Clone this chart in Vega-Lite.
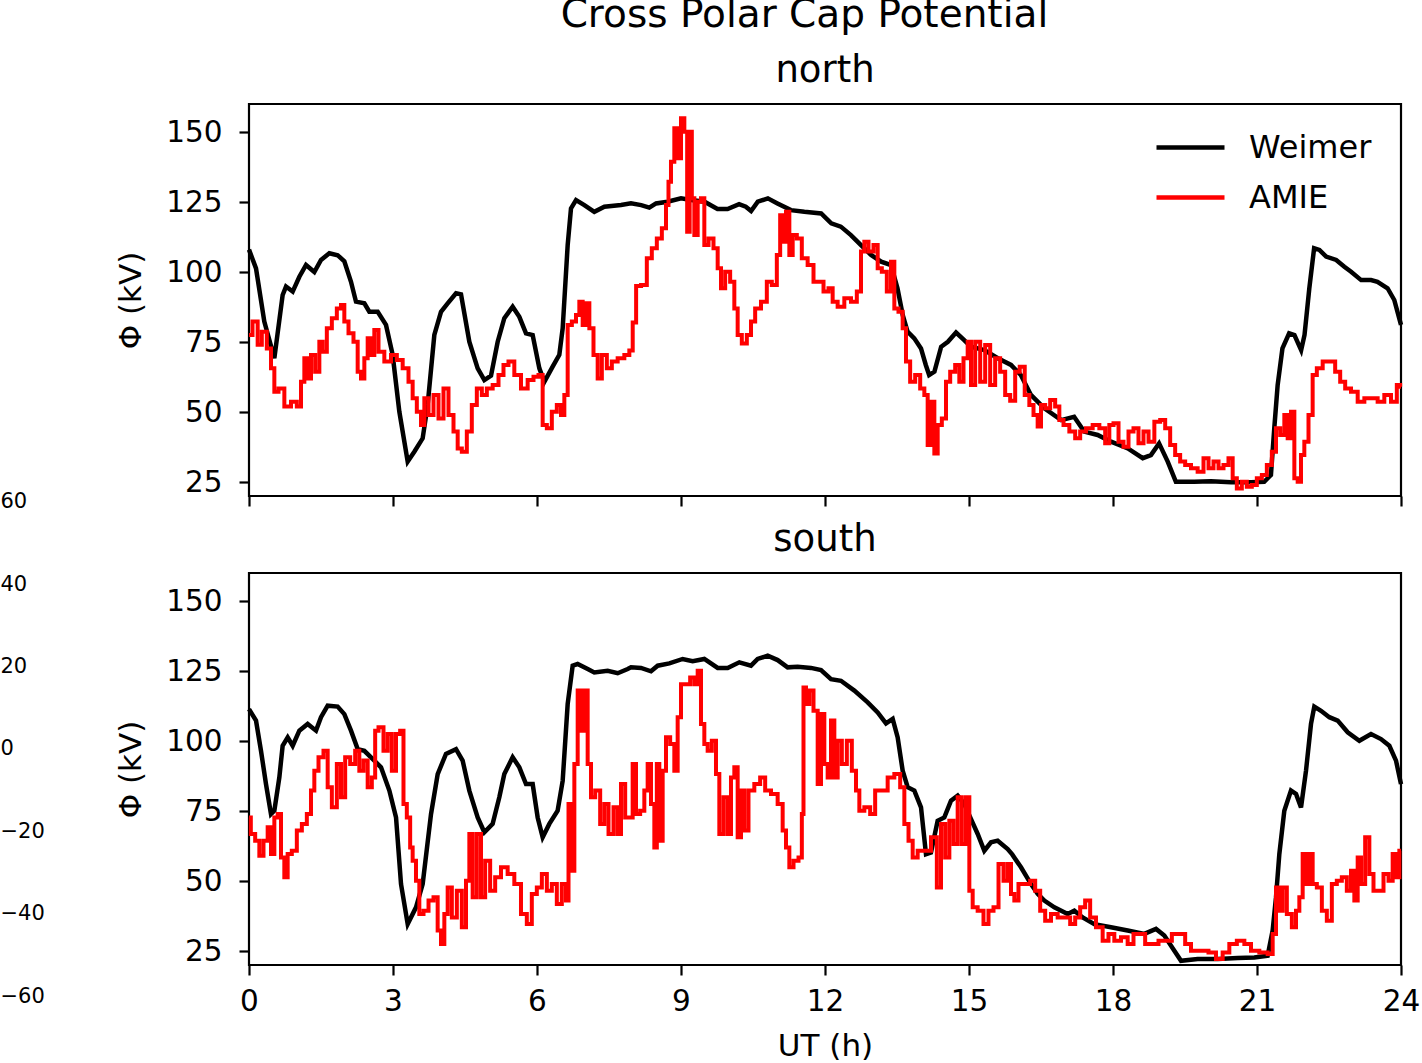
{
"$schema": "https://vega.github.io/schema/vega-lite/v6.json",
"background": "white",
"padding": {"left": 0, "top": -5, "right": 0, "bottom": 0},
"config": {
  "font": "DejaVu Sans",
  "view": {"stroke": "black", "strokeWidth": 2.2},
  "axis": {"grid": false, "domain": false, "labelFlush": false, "labelOverlap": false, "tickColor": "black", "tickWidth": 2.2, "tickSize": 10, "labelFont": "DejaVu Sans", "labelFontSize": 29.5, "labelColor": "black", "titleFont": "DejaVu Sans", "titleFontSize": 31, "titleFontWeight": "normal", "titleColor": "black"},
  "title": {"font": "DejaVu Sans", "fontWeight": "normal", "color": "black"}
},
"title": {"text": "Cross Polar Cap Potential", "fontSize": 39, "anchor": "middle", "baseline": "alphabetic", "offset": -15, "dx": 94},
"bounds": "flush",
"spacing": 247,
"datasets": {
"nw": [{"h":0,"v":108},{"h":0.146,"v":101.3},{"h":0.319,"v":82.3},{"h":0.528,"v":69.2},{"h":0.701,"v":91.8},{"h":0.771,"v":94.8},{"h":0.91,"v":93},{"h":1.049,"v":98.3},{"h":1.188,"v":102.5},{"h":1.361,"v":100},{"h":1.5,"v":104.3},{"h":1.674,"v":106.7},{"h":1.847,"v":106},{"h":1.986,"v":103.8},{"h":2.125,"v":96.5},{"h":2.229,"v":89.4},{"h":2.403,"v":88.8},{"h":2.507,"v":85.8},{"h":2.681,"v":85.8},{"h":2.854,"v":81.1},{"h":2.993,"v":70.4},{"h":3.132,"v":50.1},{"h":3.306,"v":32.3},{"h":3.444,"v":35.8},{"h":3.618,"v":40.6},{"h":3.722,"v":52.5},{"h":3.861,"v":77.5},{"h":4.0,"v":85.8},{"h":4.139,"v":88.8},{"h":4.313,"v":92.4},{"h":4.417,"v":92},{"h":4.59,"v":75.1},{"h":4.764,"v":65.6},{"h":4.903,"v":61.4},{"h":5.042,"v":63},{"h":5.181,"v":75.1},{"h":5.319,"v":83.5},{"h":5.493,"v":87.6},{"h":5.632,"v":84},{"h":5.771,"v":78.1},{"h":5.91,"v":77.5},{"h":6.049,"v":65.6},{"h":6.153,"v":60.8},{"h":6.326,"v":66.2},{"h":6.465,"v":70.4},{"h":6.535,"v":79.9},{"h":6.639,"v":109.6},{"h":6.708,"v":122.7},{"h":6.813,"v":125.7},{"h":6.986,"v":123.9},{"h":7.194,"v":121.5},{"h":7.403,"v":123.3},{"h":7.75,"v":123.9},{"h":7.958,"v":124.5},{"h":8.17,"v":123.9},{"h":8.34,"v":123},{"h":8.48,"v":124.5},{"h":8.72,"v":125.1},{"h":9.0,"v":126.3},{"h":9.21,"v":125.7},{"h":9.49,"v":125.1},{"h":9.76,"v":122.5},{"h":9.97,"v":122.5},{"h":10.21,"v":124.2},{"h":10.35,"v":123.3},{"h":10.46,"v":121.8},{"h":10.6,"v":125.1},{"h":10.81,"v":126.3},{"h":11.01,"v":124.5},{"h":11.29,"v":122.1},{"h":11.57,"v":121.5},{"h":11.92,"v":120.9},{"h":12.13,"v":117.4},{"h":12.33,"v":116.2},{"h":12.54,"v":113.2},{"h":12.75,"v":109.6},{"h":12.96,"v":106.1},{"h":13.17,"v":103.7},{"h":13.375,"v":102.5},{"h":13.51,"v":94.2},{"h":13.62,"v":84.6},{"h":13.72,"v":78.7},{"h":13.86,"v":76.3},{"h":14.0,"v":72.7},{"h":14.1,"v":66.8},{"h":14.17,"v":63.2},{"h":14.28,"v":64.4},{"h":14.42,"v":73.3},{"h":14.56,"v":75.1},{"h":14.73,"v":78.4},{"h":14.9,"v":75.7},{"h":15.04,"v":73.3},{"h":15.32,"v":72.1},{"h":15.6,"v":69.2},{"h":15.875,"v":66.8},{"h":16.08,"v":63.2},{"h":16.29,"v":56.1},{"h":16.57,"v":51.3},{"h":16.92,"v":47.1},{"h":17.19,"v":48.3},{"h":17.4,"v":43},{"h":17.68,"v":41.8},{"h":17.96,"v":39.4},{"h":18.31,"v":37},{"h":18.62,"v":33.5},{"h":18.79,"v":34.6},{"h":18.96,"v":38.8},{"h":19.14,"v":32.3},{"h":19.31,"v":25.1},{"h":19.69,"v":25.1},{"h":20.04,"v":25.3},{"h":20.46,"v":24.9},{"h":20.875,"v":24.9},{"h":21.15,"v":25.1},{"h":21.29,"v":27.5},{"h":21.36,"v":44.2},{"h":21.43,"v":59.6},{"h":21.53,"v":72.7},{"h":21.67,"v":78.1},{"h":21.78,"v":77.5},{"h":21.92,"v":72.1},{"h":21.99,"v":77.5},{"h":22.09,"v":94.2},{"h":22.19,"v":108.5},{"h":22.3,"v":107.9},{"h":22.44,"v":105.5},{"h":22.65,"v":104.3},{"h":22.82,"v":101.9},{"h":22.96,"v":100.1},{"h":23.17,"v":97.1},{"h":23.375,"v":97.1},{"h":23.51,"v":96.5},{"h":23.72,"v":94.2},{"h":23.86,"v":90},{"h":24,"v":81.1}],
"na": [{"h":0,"v":77.5},{"h":0.146,"v":82.3},{"h":0.215,"v":74},{"h":0.319,"v":78.7},{"h":0.424,"v":72.7},{"h":0.493,"v":65.6},{"h":0.563,"v":57.2},{"h":0.667,"v":58.4},{"h":0.806,"v":52},{"h":0.944,"v":53.7},{"h":1.049,"v":52},{"h":1.118,"v":60.8},{"h":1.188,"v":69.2},{"h":1.257,"v":62},{"h":1.326,"v":70.4},{"h":1.431,"v":64.4},{"h":1.5,"v":75.1},{"h":1.569,"v":71.5},{"h":1.674,"v":79.9},{"h":1.778,"v":83.5},{"h":1.882,"v":87},{"h":1.951,"v":88.2},{"h":2.021,"v":82.3},{"h":2.125,"v":78.1},{"h":2.229,"v":75.1},{"h":2.299,"v":64.4},{"h":2.368,"v":62},{"h":2.438,"v":69.2},{"h":2.507,"v":76.3},{"h":2.576,"v":70.4},{"h":2.646,"v":79.3},{"h":2.75,"v":71.5},{"h":2.889,"v":68},{"h":3.028,"v":70.4},{"h":3.132,"v":68.6},{"h":3.271,"v":65.6},{"h":3.375,"v":60.8},{"h":3.444,"v":54.9},{"h":3.549,"v":50.1},{"h":3.618,"v":45.4},{"h":3.688,"v":54.9},{"h":3.792,"v":48.9},{"h":3.896,"v":56.1},{"h":4.0,"v":47.7},{"h":4.104,"v":58.4},{"h":4.208,"v":48.9},{"h":4.313,"v":43},{"h":4.382,"v":37},{"h":4.486,"v":35.8},{"h":4.59,"v":43},{"h":4.694,"v":52.5},{"h":4.799,"v":58.4},{"h":4.903,"v":56.1},{"h":5.007,"v":58.4},{"h":5.146,"v":59.6},{"h":5.25,"v":63.2},{"h":5.354,"v":66.8},{"h":5.458,"v":68},{"h":5.597,"v":63.2},{"h":5.736,"v":58.4},{"h":5.875,"v":61.4},{"h":5.979,"v":62.6},{"h":6.083,"v":63.2},{"h":6.153,"v":45.4},{"h":6.257,"v":44.2},{"h":6.361,"v":50.1},{"h":6.465,"v":52.5},{"h":6.535,"v":48.9},{"h":6.604,"v":56.1},{"h":6.674,"v":81.1},{"h":6.778,"v":82.3},{"h":6.847,"v":84.6},{"h":6.917,"v":89.4},{"h":6.986,"v":81.1},{"h":7.056,"v":88.8},{"h":7.125,"v":79.9},{"h":7.229,"v":70.4},{"h":7.299,"v":62},{"h":7.403,"v":70.4},{"h":7.507,"v":65.6},{"h":7.611,"v":68},{"h":7.75,"v":69.2},{"h":7.889,"v":70.4},{"h":7.958,"v":72},{"h":8.03,"v":82},{"h":8.1,"v":95},{"h":8.236,"v":95.4},{"h":8.34,"v":104.9},{"h":8.444,"v":108.5},{"h":8.549,"v":112},{"h":8.653,"v":115.6},{"h":8.722,"v":123.9},{"h":8.757,"v":132.2},{"h":8.826,"v":139.4},{"h":8.896,"v":151.3},{"h":8.965,"v":140.6},{"h":9.035,"v":154.9},{"h":9.104,"v":150.1},{"h":9.153,"v":114.4},{"h":9.208,"v":150.1},{"h":9.243,"v":126.3},{"h":9.313,"v":113.2},{"h":9.382,"v":125.1},{"h":9.451,"v":126.3},{"h":9.521,"v":109.6},{"h":9.625,"v":112},{"h":9.729,"v":108.5},{"h":9.799,"v":101.3},{"h":9.868,"v":94.2},{"h":9.972,"v":100.1},{"h":10.076,"v":96.5},{"h":10.146,"v":87},{"h":10.215,"v":77.5},{"h":10.319,"v":74.5},{"h":10.424,"v":77.5},{"h":10.493,"v":82.3},{"h":10.597,"v":87},{"h":10.736,"v":89.4},{"h":10.84,"v":96.5},{"h":10.944,"v":95.4},{"h":11.049,"v":106.1},{"h":11.083,"v":120.3},{"h":11.153,"v":110.8},{"h":11.222,"v":121.5},{"h":11.292,"v":106.1},{"h":11.361,"v":113.2},{"h":11.465,"v":112},{"h":11.569,"v":104.9},{"h":11.708,"v":102.5},{"h":11.813,"v":96.5},{"h":11.917,"v":96.5},{"h":12.021,"v":93},{"h":12.125,"v":94.2},{"h":12.194,"v":89.4},{"h":12.333,"v":87.6},{"h":12.472,"v":90.6},{"h":12.611,"v":89.4},{"h":12.715,"v":93},{"h":12.785,"v":107.3},{"h":12.854,"v":110.8},{"h":12.958,"v":107.3},{"h":13.063,"v":109.6},{"h":13.132,"v":101.3},{"h":13.236,"v":100.1},{"h":13.34,"v":93},{"h":13.41,"v":103.7},{"h":13.479,"v":87},{"h":13.583,"v":85.8},{"h":13.653,"v":79.9},{"h":13.722,"v":68},{"h":13.826,"v":60.8},{"h":13.931,"v":63.2},{"h":14.035,"v":58.4},{"h":14.104,"v":56.1},{"h":14.174,"v":38.2},{"h":14.243,"v":53.7},{"h":14.313,"v":35.2},{"h":14.382,"v":45.4},{"h":14.486,"v":47.7},{"h":14.556,"v":60.8},{"h":14.66,"v":64.4},{"h":14.764,"v":66.8},{"h":14.833,"v":60.8},{"h":14.938,"v":69.2},{"h":15.007,"v":75.1},{"h":15.076,"v":59.6},{"h":15.181,"v":75.1},{"h":15.285,"v":60.8},{"h":15.389,"v":73.9},{"h":15.493,"v":59.6},{"h":15.597,"v":69.2},{"h":15.701,"v":64.4},{"h":15.806,"v":56.1},{"h":15.91,"v":54},{"h":16.014,"v":64.4},{"h":16.1,"v":66.2},{"h":16.222,"v":56.1},{"h":16.292,"v":52.5},{"h":16.396,"v":48.9},{"h":16.465,"v":44.8},{"h":16.535,"v":52.5},{"h":16.639,"v":51.3},{"h":16.743,"v":54.3},{"h":16.847,"v":52},{"h":16.917,"v":47.1},{"h":17.021,"v":45.4},{"h":17.16,"v":43},{"h":17.264,"v":40.6},{"h":17.368,"v":43},{"h":17.507,"v":44.2},{"h":17.646,"v":45.4},{"h":17.785,"v":44.2},{"h":17.889,"v":38.8},{"h":17.958,"v":45.4},{"h":18.063,"v":46},{"h":18.167,"v":39.4},{"h":18.271,"v":37.6},{"h":18.375,"v":43},{"h":18.479,"v":44.2},{"h":18.583,"v":38.8},{"h":18.688,"v":43},{"h":18.792,"v":39.4},{"h":18.931,"v":46.5},{"h":19.035,"v":47.1},{"h":19.139,"v":44.2},{"h":19.243,"v":38.2},{"h":19.347,"v":34.6},{"h":19.451,"v":32.3},{"h":19.556,"v":31.1},{"h":19.694,"v":29.9},{"h":19.833,"v":28.7},{"h":19.938,"v":33.5},{"h":20.042,"v":29.9},{"h":20.146,"v":32.3},{"h":20.25,"v":29.9},{"h":20.354,"v":31.1},{"h":20.458,"v":33.5},{"h":20.528,"v":26.3},{"h":20.632,"v":22.7},{"h":20.736,"v":25.1},{"h":20.84,"v":23.3},{"h":20.944,"v":23.9},{"h":21.049,"v":26.3},{"h":21.153,"v":27.5},{"h":21.257,"v":31.1},{"h":21.361,"v":35.8},{"h":21.431,"v":44.2},{"h":21.535,"v":41.8},{"h":21.604,"v":48.9},{"h":21.674,"v":40.6},{"h":21.743,"v":50.1},{"h":21.813,"v":26.3},{"h":21.882,"v":25.1},{"h":21.951,"v":34.6},{"h":22.021,"v":39.4},{"h":22.125,"v":48.9},{"h":22.194,"v":63.2},{"h":22.299,"v":65.6},{"h":22.438,"v":68},{"h":22.576,"v":68},{"h":22.681,"v":64.4},{"h":22.785,"v":60.8},{"h":22.889,"v":58.4},{"h":23.028,"v":57.2},{"h":23.167,"v":53.7},{"h":23.306,"v":54.9},{"h":23.444,"v":54.9},{"h":23.583,"v":53.7},{"h":23.722,"v":56.1},{"h":23.861,"v":53.7},{"h":23.965,"v":59.6},{"h":24,"v":59}],
"sw": [{"h":0,"v":111.4},{"h":0.146,"v":107.3},{"h":0.25,"v":96.5},{"h":0.354,"v":84.6},{"h":0.458,"v":73.9},{"h":0.528,"v":75.1},{"h":0.632,"v":87},{"h":0.701,"v":98.3},{"h":0.806,"v":101.3},{"h":0.91,"v":98.3},{"h":1.049,"v":103.7},{"h":1.222,"v":106.1},{"h":1.396,"v":103.7},{"h":1.5,"v":108.5},{"h":1.639,"v":112.6},{"h":1.847,"v":112.3},{"h":1.986,"v":109.6},{"h":2.125,"v":103.7},{"h":2.264,"v":97.1},{"h":2.403,"v":96.5},{"h":2.611,"v":93},{"h":2.75,"v":90.6},{"h":2.924,"v":82.3},{"h":3.063,"v":72.7},{"h":3.167,"v":48.9},{"h":3.306,"v":34.6},{"h":3.479,"v":40.6},{"h":3.618,"v":48.9},{"h":3.792,"v":73.9},{"h":3.931,"v":88.2},{"h":4.104,"v":95.4},{"h":4.313,"v":97.1},{"h":4.451,"v":93},{"h":4.59,"v":82.3},{"h":4.764,"v":72.7},{"h":4.903,"v":67.4},{"h":5.076,"v":70.4},{"h":5.215,"v":79.9},{"h":5.319,"v":88.2},{"h":5.493,"v":94.2},{"h":5.632,"v":90.6},{"h":5.771,"v":84.6},{"h":5.91,"v":84.6},{"h":6.014,"v":72.7},{"h":6.118,"v":65.6},{"h":6.257,"v":70.4},{"h":6.43,"v":75.1},{"h":6.535,"v":85.8},{"h":6.639,"v":113.2},{"h":6.743,"v":126.9},{"h":6.847,"v":127.5},{"h":7.056,"v":125.7},{"h":7.194,"v":124.5},{"h":7.472,"v":125.1},{"h":7.681,"v":124.2},{"h":7.889,"v":125.7},{"h":7.958,"v":126.3},{"h":8.167,"v":126.1},{"h":8.375,"v":124.9},{"h":8.514,"v":126.9},{"h":8.757,"v":127.7},{"h":9.035,"v":129.3},{"h":9.243,"v":128.5},{"h":9.486,"v":129.3},{"h":9.764,"v":126.1},{"h":9.972,"v":126.1},{"h":10.215,"v":128.1},{"h":10.458,"v":126.9},{"h":10.597,"v":129.3},{"h":10.806,"v":130.5},{"h":11.014,"v":128.9},{"h":11.222,"v":126.3},{"h":11.43,"v":126.5},{"h":11.708,"v":126.1},{"h":11.917,"v":125.3},{"h":12.125,"v":122.1},{"h":12.333,"v":121.5},{"h":12.611,"v":118},{"h":12.889,"v":113.8},{"h":13.097,"v":110.2},{"h":13.271,"v":106.3},{"h":13.41,"v":107.9},{"h":13.514,"v":101.3},{"h":13.618,"v":89.4},{"h":13.722,"v":83.5},{"h":13.861,"v":82.3},{"h":14.0,"v":76.3},{"h":14.104,"v":59.6},{"h":14.208,"v":60.2},{"h":14.347,"v":71.5},{"h":14.486,"v":72.7},{"h":14.625,"v":78.7},{"h":14.764,"v":80.5},{"h":14.903,"v":77.5},{"h":15.042,"v":72.1},{"h":15.181,"v":66.8},{"h":15.319,"v":60.8},{"h":15.458,"v":63.8},{"h":15.597,"v":64.4},{"h":15.806,"v":61.4},{"h":15.9,"v":59.5},{"h":16.083,"v":54.9},{"h":16.292,"v":48.9},{"h":16.431,"v":45.4},{"h":16.569,"v":43},{"h":16.778,"v":40.6},{"h":17.056,"v":38.2},{"h":17.194,"v":39.4},{"h":17.368,"v":37},{"h":17.611,"v":34.6},{"h":17.958,"v":33.5},{"h":18.306,"v":32.3},{"h":18.653,"v":31.1},{"h":18.896,"v":32.9},{"h":19.069,"v":30.5},{"h":19.278,"v":25.1},{"h":19.417,"v":21.5},{"h":19.764,"v":22.1},{"h":20.18,"v":22.1},{"h":20.597,"v":22.5},{"h":20.944,"v":22.7},{"h":21.222,"v":23.3},{"h":21.326,"v":32.3},{"h":21.396,"v":44.2},{"h":21.465,"v":59.6},{"h":21.569,"v":75.1},{"h":21.708,"v":82.3},{"h":21.813,"v":81.1},{"h":21.917,"v":76.3},{"h":22.021,"v":89.4},{"h":22.125,"v":106.1},{"h":22.194,"v":112.3},{"h":22.333,"v":110.8},{"h":22.507,"v":108.5},{"h":22.681,"v":107.3},{"h":22.889,"v":103.1},{"h":23.132,"v":100.1},{"h":23.375,"v":102.5},{"h":23.583,"v":100.7},{"h":23.757,"v":98.3},{"h":23.896,"v":93},{"h":24,"v":84.6}],
"sa": [{"h":0,"v":72.7},{"h":0.076,"v":66.8},{"h":0.181,"v":64.4},{"h":0.25,"v":59},{"h":0.354,"v":64.4},{"h":0.424,"v":69.2},{"h":0.493,"v":59.6},{"h":0.563,"v":72.7},{"h":0.632,"v":73.9},{"h":0.701,"v":58.4},{"h":0.771,"v":51.3},{"h":0.84,"v":59.6},{"h":0.944,"v":60.8},{"h":1.049,"v":68},{"h":1.153,"v":70.4},{"h":1.257,"v":73.9},{"h":1.326,"v":82.3},{"h":1.396,"v":89.4},{"h":1.5,"v":94.2},{"h":1.604,"v":96.5},{"h":1.674,"v":83.5},{"h":1.778,"v":76.3},{"h":1.882,"v":91.8},{"h":1.951,"v":79.9},{"h":2.056,"v":94.2},{"h":2.16,"v":91.8},{"h":2.264,"v":96.5},{"h":2.333,"v":89.4},{"h":2.438,"v":93},{"h":2.507,"v":83.5},{"h":2.611,"v":87},{"h":2.646,"v":103.7},{"h":2.75,"v":104.9},{"h":2.854,"v":96.5},{"h":2.924,"v":102.5},{"h":3.028,"v":89.4},{"h":3.097,"v":102.5},{"h":3.201,"v":103.7},{"h":3.236,"v":77.5},{"h":3.34,"v":72.7},{"h":3.375,"v":62},{"h":3.444,"v":57.2},{"h":3.514,"v":50.1},{"h":3.583,"v":38.2},{"h":3.688,"v":39.4},{"h":3.792,"v":43},{"h":3.896,"v":44.2},{"h":3.965,"v":32.3},{"h":4.035,"v":27.5},{"h":4.104,"v":38.2},{"h":4.174,"v":47.7},{"h":4.278,"v":37},{"h":4.382,"v":46.5},{"h":4.486,"v":33.5},{"h":4.556,"v":50.1},{"h":4.625,"v":66.8},{"h":4.694,"v":44.2},{"h":4.799,"v":66.8},{"h":4.868,"v":44.2},{"h":4.972,"v":57.2},{"h":5.076,"v":46.5},{"h":5.181,"v":51.3},{"h":5.319,"v":54.9},{"h":5.458,"v":52.5},{"h":5.597,"v":48.9},{"h":5.736,"v":38.2},{"h":5.84,"v":34.6},{"h":5.944,"v":45.4},{"h":6.049,"v":47.7},{"h":6.153,"v":52.5},{"h":6.257,"v":46.5},{"h":6.361,"v":48.9},{"h":6.465,"v":41.8},{"h":6.569,"v":48.9},{"h":6.639,"v":43},{"h":6.674,"v":77.5},{"h":6.743,"v":53.7},{"h":6.813,"v":91.8},{"h":6.882,"v":118},{"h":6.951,"v":103.7},{"h":7.021,"v":118},{"h":7.09,"v":91.8},{"h":7.16,"v":79.9},{"h":7.264,"v":82.3},{"h":7.368,"v":70.4},{"h":7.438,"v":77.5},{"h":7.542,"v":66.8},{"h":7.646,"v":76.3},{"h":7.715,"v":66.8},{"h":7.785,"v":84.6},{"h":7.889,"v":72.7},{"h":7.958,"v":72.7},{"h":8.028,"v":91.8},{"h":8.097,"v":73.9},{"h":8.201,"v":75.1},{"h":8.271,"v":82.3},{"h":8.34,"v":91.8},{"h":8.41,"v":77.5},{"h":8.479,"v":62},{"h":8.514,"v":91.8},{"h":8.583,"v":64.4},{"h":8.653,"v":89.4},{"h":8.722,"v":101.3},{"h":8.826,"v":98.9},{"h":8.896,"v":89.4},{"h":8.965,"v":108.5},{"h":9.035,"v":120.3},{"h":9.139,"v":120.3},{"h":9.243,"v":122.7},{"h":9.313,"v":120.3},{"h":9.382,"v":125.1},{"h":9.451,"v":106.1},{"h":9.521,"v":98.9},{"h":9.59,"v":96.5},{"h":9.694,"v":100.1},{"h":9.764,"v":88.2},{"h":9.833,"v":66.8},{"h":9.938,"v":79.9},{"h":10.007,"v":66.8},{"h":10.076,"v":87},{"h":10.146,"v":90.6},{"h":10.215,"v":65.6},{"h":10.285,"v":82.3},{"h":10.354,"v":68},{"h":10.458,"v":82.3},{"h":10.597,"v":84.6},{"h":10.701,"v":87},{"h":10.806,"v":82.3},{"h":10.944,"v":81.1},{"h":11.083,"v":77.5},{"h":11.153,"v":68},{"h":11.222,"v":62},{"h":11.292,"v":54.9},{"h":11.396,"v":57.2},{"h":11.5,"v":58.4},{"h":11.535,"v":73.9},{"h":11.569,"v":119.1},{"h":11.639,"v":113.2},{"h":11.708,"v":118},{"h":11.813,"v":110.8},{"h":11.882,"v":84.6},{"h":11.951,"v":109.6},{"h":12.021,"v":91.8},{"h":12.09,"v":87},{"h":12.16,"v":107.3},{"h":12.229,"v":87},{"h":12.299,"v":100.1},{"h":12.403,"v":91.8},{"h":12.507,"v":100.1},{"h":12.611,"v":89.4},{"h":12.681,"v":82.3},{"h":12.75,"v":75.1},{"h":12.889,"v":76.3},{"h":12.993,"v":73.9},{"h":13.097,"v":82.3},{"h":13.236,"v":82.3},{"h":13.375,"v":87},{"h":13.514,"v":88.2},{"h":13.618,"v":83.5},{"h":13.688,"v":70.4},{"h":13.792,"v":64.4},{"h":13.861,"v":58.4},{"h":14.0,"v":60.8},{"h":14.139,"v":60.8},{"h":14.278,"v":65.6},{"h":14.382,"v":47.7},{"h":14.451,"v":70.4},{"h":14.556,"v":58.4},{"h":14.625,"v":71.5},{"h":14.729,"v":63.2},{"h":14.799,"v":79.9},{"h":14.903,"v":63.2},{"h":14.972,"v":79.9},{"h":15.042,"v":46.5},{"h":15.111,"v":40.6},{"h":15.25,"v":39.4},{"h":15.354,"v":34.6},{"h":15.458,"v":39.4},{"h":15.563,"v":40.6},{"h":15.667,"v":56.1},{"h":15.771,"v":50.1},{"h":15.84,"v":56.1},{"h":15.91,"v":45.4},{"h":15.979,"v":43},{"h":16.083,"v":48.9},{"h":16.222,"v":48.9},{"h":16.326,"v":50.1},{"h":16.431,"v":46.5},{"h":16.535,"v":39.4},{"h":16.639,"v":35.8},{"h":16.778,"v":38.2},{"h":16.917,"v":37},{"h":17.056,"v":37},{"h":17.16,"v":34.6},{"h":17.264,"v":37},{"h":17.368,"v":40.6},{"h":17.472,"v":43},{"h":17.576,"v":37},{"h":17.715,"v":33.5},{"h":17.854,"v":28.7},{"h":17.958,"v":31.1},{"h":18.097,"v":28.7},{"h":18.236,"v":29.9},{"h":18.375,"v":27.5},{"h":18.479,"v":31.1},{"h":18.618,"v":31.1},{"h":18.722,"v":27.5},{"h":18.861,"v":27.5},{"h":19.035,"v":28.7},{"h":19.174,"v":28.7},{"h":19.278,"v":31.1},{"h":19.451,"v":31.1},{"h":19.556,"v":27.5},{"h":19.694,"v":25.1},{"h":19.903,"v":25.1},{"h":20.076,"v":24.5},{"h":20.215,"v":22.1},{"h":20.354,"v":24.5},{"h":20.493,"v":27.5},{"h":20.667,"v":28.7},{"h":20.806,"v":27.5},{"h":20.944,"v":25.1},{"h":21.153,"v":24.5},{"h":21.292,"v":23.9},{"h":21.361,"v":31.1},{"h":21.431,"v":47.7},{"h":21.5,"v":39.4},{"h":21.569,"v":47.7},{"h":21.674,"v":38.2},{"h":21.778,"v":33.5},{"h":21.847,"v":39.4},{"h":21.917,"v":44.2},{"h":21.986,"v":59.6},{"h":22.056,"v":48.9},{"h":22.125,"v":59.6},{"h":22.194,"v":48.9},{"h":22.299,"v":47.7},{"h":22.403,"v":39.4},{"h":22.507,"v":35.8},{"h":22.611,"v":48.9},{"h":22.715,"v":50.1},{"h":22.819,"v":51.3},{"h":22.924,"v":46.5},{"h":22.993,"v":53.7},{"h":23.063,"v":43},{"h":23.132,"v":58.4},{"h":23.201,"v":48.9},{"h":23.306,"v":65.6},{"h":23.375,"v":52.5},{"h":23.479,"v":46.5},{"h":23.583,"v":46.5},{"h":23.688,"v":52.5},{"h":23.792,"v":50.1},{"h":23.861,"v":59.6},{"h":23.931,"v":51.3},{"h":24,"v":60.8}]
},
"hconcat": [
  {
    "width": 1, "height": 900,
    "view": {"stroke": null},
    "data": {"values": [{"t": -60}, {"t": -40}, {"t": -20}, {"t": 0}, {"t": 20}, {"t": 40}, {"t": 60}]},
    "mark": {"type": "point", "opacity": 0, "size": 0, "strokeWidth": 0},
    "encoding": {
      "y": {"field": "t", "type": "quantitative", "scale": {"domain": [-61.94, 156.67], "nice": false, "zero": false},
        "axis": {"orient": "right", "values": [-60, -40, -20, 0, 20, 40, 60], "ticks": false, "domain": false, "labelPadding": -2, "labelFontSize": 21, "labelAlign": "left", "title": null}}
    }
  },
  {
    "bounds": "flush",
    "spacing": 77,
    "resolve": {"scale": {"color": "independent"}, "legend": {"color": "independent"}},
    "vconcat": [
      {
        "width": 1152, "height": 392,
        "title": {"text": "north", "fontSize": 37, "baseline": "alphabetic", "offset": -15, "anchor": "middle"},
        "layer": [
          {
            "data": {"name": "nw"},
            "mark": {"type": "line", "strokeWidth": 4.5},
            "encoding": {
              "x": {"field": "h", "type": "quantitative", "scale": {"domain": [0, 24], "nice": false}, "axis": {"values": [0, 3, 6, 9, 12, 15, 18, 21, 24], "labels": false, "title": null}},
              "y": {"field": "v", "type": "quantitative", "scale": {"domain": [20, 160], "nice": false, "zero": false}, "axis": {"values": [25, 50, 75, 100, 125, 150], "title": "Φ (kV)", "labelPadding": 17, "titlePadding": 18}},
              "color": {"datum": "Weimer", "type": "nominal", "scale": {"domain": ["Weimer", "AMIE"], "range": ["black", "red"]},
                "legend": {"orient": "none", "legendX": 922, "legendY": 24, "title": null, "symbolType": "M-2,0H2", "symbolSize": 1156, "symbolStrokeWidth": 4.5, "labelFontSize": 32, "labelFont": "DejaVu Sans", "labelColor": "black", "labelOffset": 39, "rowPadding": 14, "padding": 0}}
            }
          },
          {
            "data": {"name": "na"},
            "mark": {"type": "line", "strokeWidth": 4, "interpolate": "step"},
            "encoding": {
              "x": {"field": "h", "type": "quantitative"},
              "y": {"field": "v", "type": "quantitative"},
              "color": {"datum": "AMIE", "type": "nominal"}
            }
          }
        ]
      },
      {
        "width": 1152, "height": 392,
        "title": {"text": "south", "fontSize": 37, "baseline": "alphabetic", "offset": -15, "anchor": "middle"},
        "layer": [
          {
            "data": {"name": "sw"},
            "mark": {"type": "line", "strokeWidth": 4.5},
            "encoding": {
              "x": {"field": "h", "type": "quantitative", "scale": {"domain": [0, 24], "nice": false}, "axis": {"values": [0, 3, 6, 9, 12, 15, 18, 21, 24], "title": "UT (h)", "labelPadding": 12, "titlePadding": 16}},
              "y": {"field": "v", "type": "quantitative", "scale": {"domain": [20, 160], "nice": false, "zero": false}, "axis": {"values": [25, 50, 75, 100, 125, 150], "title": "Φ (kV)", "labelPadding": 17, "titlePadding": 18}},
              "color": {"datum": "Weimer", "type": "nominal", "scale": {"domain": ["Weimer", "AMIE"], "range": ["black", "red"]}, "legend": null}
            }
          },
          {
            "data": {"name": "sa"},
            "mark": {"type": "line", "strokeWidth": 4, "interpolate": "step"},
            "encoding": {
              "x": {"field": "h", "type": "quantitative"},
              "y": {"field": "v", "type": "quantitative"},
              "color": {"datum": "AMIE", "type": "nominal", "legend": null}
            }
          }
        ]
      }
    ]
  }
]
}
